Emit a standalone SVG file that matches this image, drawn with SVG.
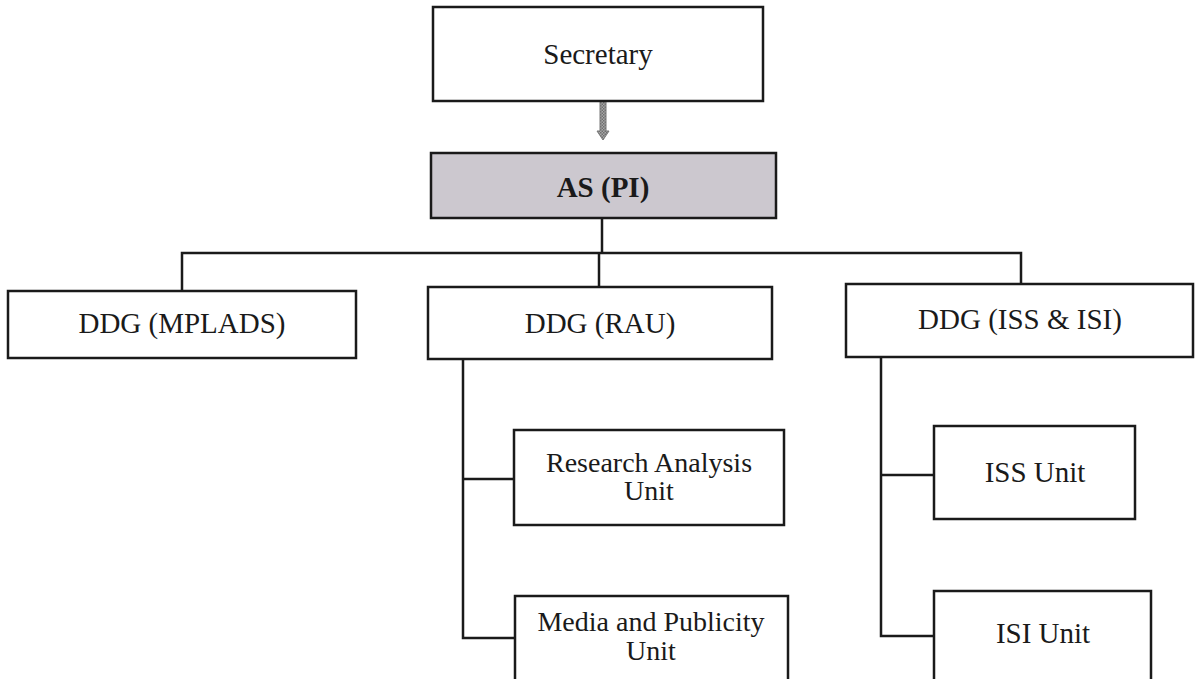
<svg xmlns="http://www.w3.org/2000/svg" width="1198" height="679" viewBox="0 0 1198 679">
<style>
.box{fill:#fff;stroke:#1a1a1a;stroke-width:2.5}
.gray{fill:#ccc8cf;stroke:#1a1a1a;stroke-width:2.5}
.t{font-family:"Liberation Serif","Times New Roman",serif;font-size:29px;fill:#1a1a1a;text-anchor:middle}
.s{font-size:28px}
.b{font-weight:bold}
.ln{fill:none;stroke:#1a1a1a;stroke-width:2.5}
</style>
<defs>
<pattern id="chk" width="3" height="3" patternUnits="userSpaceOnUse">
<rect width="3" height="3" fill="#a9a9a9"/>
<rect width="1.5" height="1.5" fill="#6e6e6e"/>
<rect x="1.5" y="1.5" width="1.5" height="1.5" fill="#6e6e6e"/>
</pattern>
</defs>
<rect width="1198" height="679" fill="#fff"/>
<g id="connectors">
<polygon points="600,97 606,97 606,131 609,131 603,140 597,131 600,131" fill="url(#chk)" stroke="#777" stroke-width="1"/>
<polyline class="ln" points="602,218 602,253"/>
<polyline class="ln" points="182,291 182,253 1021,253 1021,284"/>
<polyline class="ln" points="599,253 599,287"/>
<polyline class="ln" points="463,359 463,638 515,638"/>
<polyline class="ln" points="463,479 514,479"/>
<polyline class="ln" points="881,357 881,636 934,636"/>
<polyline class="ln" points="881,475 934,475"/>
</g>
<g id="secretary">
<rect class="box" x="433" y="7" width="330" height="94"/>
<text class="t" x="598" y="64">Secretary</text>
</g>
<g id="as-pi">
<rect class="gray" x="431" y="153" width="345" height="65"/>
<text class="t b" x="603" y="197">AS (PI)</text>
</g>
<g id="ddg-mplads">
<rect class="box" x="8" y="291" width="348" height="67"/>
<text class="t" x="182" y="333">DDG (MPLADS)</text>
</g>
<g id="ddg-rau">
<rect class="box" x="428" y="287" width="344" height="72"/>
<text class="t" x="600" y="333">DDG (RAU)</text>
</g>
<g id="ddg-iss-isi">
<rect class="box" x="846" y="284" width="347" height="73"/>
<text class="t" x="1020" y="329">DDG (ISS &amp; ISI)</text>
</g>
<g id="research-analysis-unit">
<rect class="box" x="514" y="430" width="270" height="95"/>
<text class="t s" x="649" y="472">Research Analysis</text>
<text class="t s" x="649" y="500">Unit</text>
</g>
<g id="media-publicity-unit">
<rect class="box" x="515" y="596" width="273" height="90"/>
<text class="t s" x="651" y="631">Media and Publicity</text>
<text class="t s" x="651" y="660">Unit</text>
</g>
<g id="iss-unit">
<rect class="box" x="934" y="426" width="201" height="93"/>
<text class="t" x="1035" y="482">ISS Unit</text>
</g>
<g id="isi-unit">
<rect class="box" x="934" y="591" width="217" height="95"/>
<text class="t" x="1043" y="643">ISI Unit</text>
</g>
</svg>
